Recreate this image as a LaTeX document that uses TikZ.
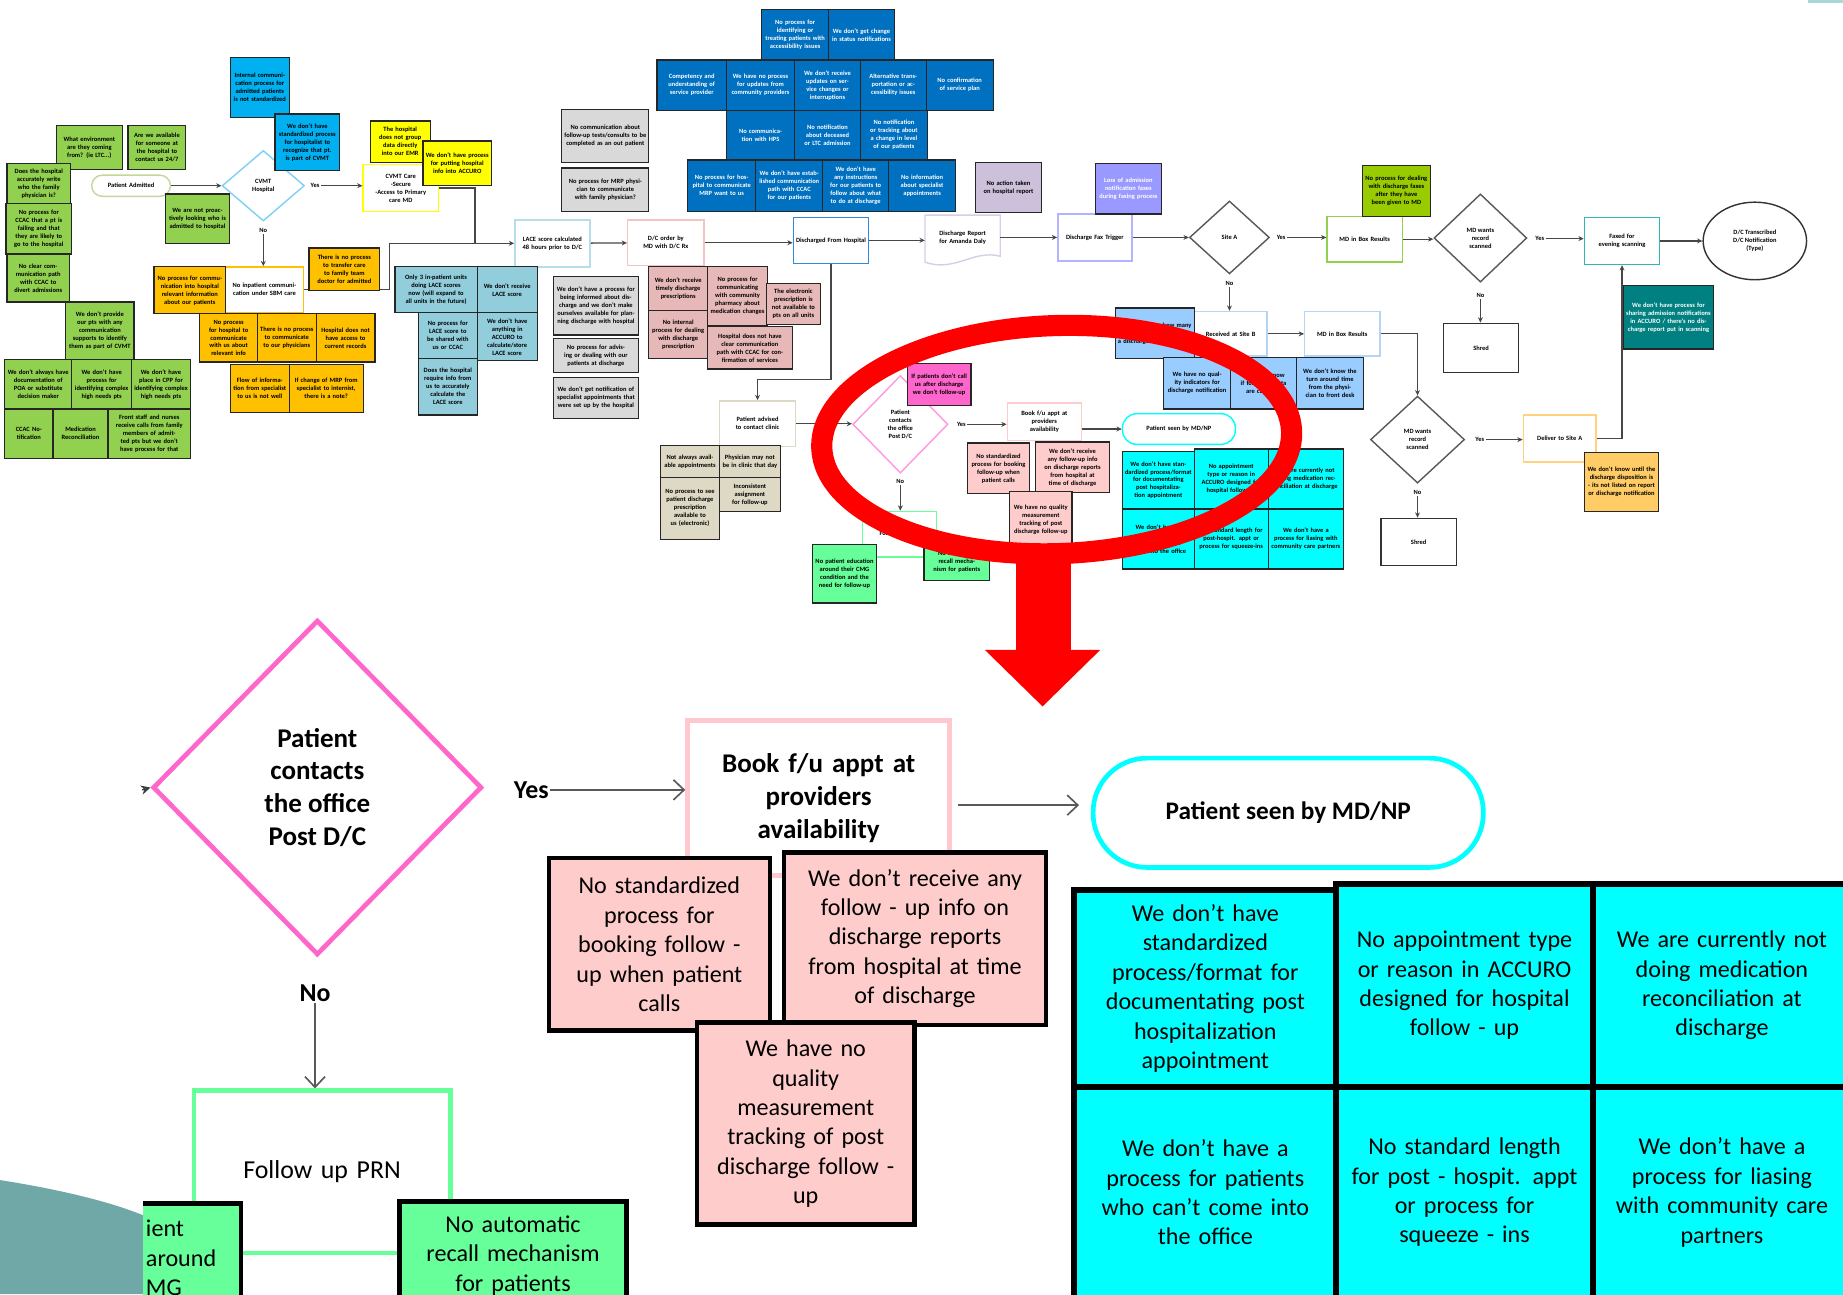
\documentclass[tikz,border=0pt]{standalone}
\usepackage{fontspec}
\setmainfont{Carlito}
\usetikzlibrary{arrows.meta,shapes.geometric,calc}

\definecolor{cgreen}{HTML}{92D050}
\definecolor{cblue}{HTML}{00B0F0}
\definecolor{cyellow}{HTML}{FFFF00}
\definecolor{corange}{HTML}{FFC000}
\definecolor{clace}{HTML}{92CDDC}
\definecolor{cgray}{HTML}{D9D9D9}
\definecolor{crose}{HTML}{E6B8B7}
\definecolor{cdblue}{HTML}{0070C0}
\definecolor{cpg}{HTML}{CCC0DA}
\definecolor{cviolet}{HTML}{9999FF}
\definecolor{clime}{HTML}{99CC00}
\definecolor{cteal}{HTML}{008080}
\definecolor{corlight}{HTML}{FFCC66}
\definecolor{clb}{HTML}{99CCFF}
\definecolor{cbeige}{HTML}{DDD9C4}
\definecolor{cmag}{HTML}{FF66CC}
\definecolor{cpink}{HTML}{FFCCCC}
\definecolor{ccyan}{HTML}{00FFFF}
\definecolor{cbright}{HTML}{66FF99}
\definecolor{cpalegreen}{HTML}{C3D69B}
\definecolor{cpinkd}{HTML}{FF66CC}
\definecolor{csdia}{HTML}{FF99DD}
\definecolor{clacebd}{HTML}{B7DEE8}
\definecolor{cdcbd}{HTML}{F2C4C4}
\definecolor{cdfhbd}{HTML}{3388DD}
\definecolor{cfaxbd}{HTML}{B3B3FF}
\definecolor{ctealbd}{HTML}{31B5B5}
\definecolor{clbbd}{HTML}{B4D5F5}
\definecolor{cdelbd}{HTML}{FFD27F}
\definecolor{cdocbd}{HTML}{D9CCE8}
\definecolor{ccvmtbd}{HTML}{7FD0F5}
\definecolor{dgray}{HTML}{595959}
\definecolor{cbookbd}{HTML}{FFC7CE}
\definecolor{bteal}{HTML}{6FA8A6}
\definecolor{cmark}{HTML}{A8D8D8}

% box given by its corners: name, x1, y1, x2, y2, style, text
\newcommand{\cellbox}[7]{%
  \pgfmathsetmacro{\cbw}{#4-#2}%
  \pgfmathsetmacro{\cbh}{#5-#3}%
  \pgfmathsetmacro{\cbt}{max(#4-#2-4,5)}%
  \pgfmathsetmacro{\cbx}{(#2+#4)/2}%
  \pgfmathsetmacro{\cby}{(#3+#5)/2}%
  \node[#6, minimum width=\cbw pt, minimum height=\cbh pt, text width=\cbt pt] (#1) at (\cbx,\cby) {#7};}

\tikzset{
  tinyt/.style={font=\fontsize{5.5}{6.8}\selectfont\bfseries, align=center, inner sep=0pt},
  prob/.style={tinyt, draw=black!85, line width=1.1pt, fill=#1},
  proc/.style={tinyt, draw=#1, line width=1.2pt, fill=white},
  lbl/.style={tinyt, inner sep=1pt},
  flow/.style={draw=black!72, line width=1.1pt, -{Stealth[length=4.5pt,width=4.2pt]}},
  plain/.style={draw=black!72, line width=1.1pt},
  bigt/.style={font=\fontsize{20.5}{25}\selectfont, align=center, inner sep=0pt},
  bigb/.style={font=\fontsize{23}{28}\selectfont\bfseries, align=center, inner sep=0pt},
  bigprob/.style={bigt, draw=black, line width=4pt, fill=#1},
  bigproc/.style={draw=#1, line width=4pt, fill=white, align=center, inner sep=0pt},
  blbl/.style={font=\fontsize{22}{26}\selectfont\bfseries, inner sep=1pt},
  bflow/.style={draw=black!65, line width=1.4pt, -{Straight Barb[length=9pt,width=17pt]}},
}

\begin{document}
\begin{tikzpicture}[x=1pt,y=-1pt]
\useasboundingbox (0,0) rectangle (1568,1101);
\clip (0,0) rectangle (1568,1101);
\fill[white] (0,0) rectangle (1568,1101);
\fill[cmark] (1538,0) rectangle (1568,2.5);

% ---------------- overview map: process steps ----------------
\cellbox{pa}{78}{149}{145}{167}{proc=cpalegreen, rounded corners=9pt}{Patient Admitted}
\node[diamond, draw=ccvmtbd, line width=1.2pt, minimum width=70pt, minimum height=60pt, tinyt] (cvmt) at (224,158) {CVMT\\Hospital};
\cellbox{cvmtcare}{309}{140}{373}{180}{proc=cyellow}{CVMT Care\\-Secure\\-Access to Primary\\care MD}
\cellbox{noinp}{192}{227}{258}{266}{proc=corange}{No inpatient communication under SBM care}
\cellbox{lace}{438}{187}{502}{227}{proc=clacebd}{LACE score calculated 48 hours prior to D/C}
\cellbox{dco}{534}{187}{599}{226}{proc=cdcbd}{D/C order by MD with D/C Rx}
\cellbox{dfh}{675}{185}{739}{224}{proc=cdfhbd}{Discharged From Hospital}
\draw[draw=cdocbd, line width=1.2pt, fill=white] (787,183) -- (851,183) -- (851,218) .. controls (828,212) and (812,232) .. (787,223) -- cycle;
\node[tinyt, minimum width=64pt, minimum height=36pt, text width=58pt] (drep) at (819,202) {Discharge Report for Amanda Daly};
\cellbox{fax}{900}{182}{963}{222}{proc=cfaxbd}{Discharge Fax Trigger}
\node[diamond, draw=dgray, line width=1.2pt, minimum width=68pt, minimum height=62pt, tinyt] (sitea) at (1046,202) {Site A};
\cellbox{mdbox}{1129}{184}{1193}{223}{proc=cgreen}{MD in Box Results}
\node[diamond, draw=dgray, line width=1.2pt, minimum width=79pt, minimum height=75pt, tinyt] (d2) at (1259.5,202.5) {MD wants\\record\\scanned};
\cellbox{faxed}{1348}{185}{1412}{225}{proc=ctealbd}{Faxed for evening scanning}
\node[ellipse, draw=black!80, line width=1.2pt, minimum width=88pt, minimum height=66pt, tinyt] (circ) at (1493,205) {D/C Transcribed\\D/C Notification\\(Type)};
\cellbox{recb}{1016}{265}{1078}{303}{proc=clbbd}{Received at Site B}
\cellbox{md2}{1110}{265}{1174}{303}{proc=clbbd}{MD in Box Results}
\cellbox{shreda}{1228}{275}{1292}{317}{proc=black!80}{Shred}
\node[diamond, draw=dgray, line width=1.2pt, minimum width=80pt, minimum height=74pt, tinyt] (d3) at (1206,374) {MD wants\\record\\scanned};
\cellbox{deliver}{1296}{353}{1358}{393}{proc=cdelbd}{Deliver to Site A}
\cellbox{shredb}{1175}{441}{1239}{481}{proc=black!80}{Shred}
\cellbox{pac}{612}{341}{677}{380}{proc=cbeige}{Patient advised to contact clinic}
\node[diamond, draw=csdia, line width=1.2pt, minimum width=81pt, minimum height=83pt, tinyt] (sdia) at (766,361) {Patient\\contacts\\the office\\Post D/C};
\cellbox{sbook}{857}{343}{920}{375}{proc=cpink}{Book f/u appt at\\providers\\availability}
\cellbox{spill}{955}{352}{1051}{378}{proc=ccyan, rounded corners=12pt}{Patient seen by MD/NP}
\cellbox{sprn}{734}{435}{797}{474}{proc=cbright}{Follow up PRN}

% ---------------- overview map: connectors ----------------
\draw[flow] (pa) -- (cvmt);
\node[lbl] (yesa) at (268,158) {Yes};
\draw[flow] (yesa.east) -- (yesa.east -| cvmtcare.west);
\node[lbl] (noa) at (224,196) {No};
\draw[flow] (noa.south) -- (noa.south |- noinp.north);
\draw[flow] (noinp.east) -- ++(73,0) |- (lace.west);
\coordinate (joina) at (404,207);
\draw[plain] (cvmtcare.east) -| (joina);
\draw[flow] (lace) -- (dco);
\draw[flow] (dco.east) -- (dco.east -| dfh.west);
\draw[flow] (dfh.east) -- (dfh.east -| drep.west);
\draw[flow] (drep.east) -- (drep.east -| fax.west);
\draw[flow] (fax) -- (sitea);
\node[lbl] (yesb) at (1090,202) {Yes};
\draw[flow] (yesb.east) -- (yesb.east -| mdbox.west);
\draw[flow] (mdbox.east) -- (mdbox.east -| d2.west);
\node[lbl] (yesc) at (1310,203) {Yes};
\draw[flow] (yesc.east) -- (yesc.east -| faxed.west);
\draw[flow] (faxed.east) -- (faxed.east -| circ.west);
\node[lbl] (nob) at (1259.5,251) {No};
\draw[flow] (nob.south) -- (nob.south |- shreda.north);
\node[lbl] (noc) at (1046,241) {No};
\draw[flow] (noc.south) -- (noc.south |- recb.north);
\draw[flow] (recb) -- (md2);
\draw[flow] (md2.east) -| (d3.north);
\node[lbl] (yesd) at (1259,374) {Yes};
\draw[flow] (yesd.east) -- (yesd.east -| deliver.west);
\node[lbl] (nod) at (1206,419) {No};
\draw[flow] (nod.south) -- (nod.south |- shredb.north);
\draw[flow] (deliver.east) -| (faxed.south);
\draw[flow] (dfh.south) -- ++(0,98) -| (pac.north);
\draw[flow] (pac.east) -- (pac.east -| sdia.west);
\node[lbl] (yese) at (818,361) {Yes};
\draw[flow] (yese.east) -- (yese.east -| sbook.west);
\draw[flow] (sbook.east |- spill.west) -- (spill.west);
\node[lbl] (noe) at (766,410) {No};
\draw[flow] (noe.south) -- (noe.south |- sprn.north);

% ---------------- overview map: problem cards ----------------
\cellbox{g1}{48}{107}{104}{144}{prob=cgreen}{What environment are they coming from? (ie LTC...)}
\cellbox{g2}{109}{107}{158}{144}{prob=cgreen}{Are we available for someone at the hospital to contact us 24/7}
\cellbox{g3}{6}{139}{60}{173}{prob=cgreen}{Does the hospital accurately write who the family physician is?}
\cellbox{g4}{5}{173}{61}{216}{prob=cgreen}{No process for CCAC that a pt is failing and that they are likely to go to the hospital}
\cellbox{g5}{6}{216}{59}{257}{prob=cgreen}{No clear communication path with CCAC to divert admissions}
\cellbox{g6}{141}{165}{195}{207}{prob=cgreen}{We are not proactively looking who is admitted to hospital}
\cellbox{g7}{56}{257}{114}{306}{prob=cgreen}{We don't provide our pts with any communication supports to identify them as part of CVMT}
\cellbox{g8}{4}{306}{61}{348}{prob=cgreen}{We don't always have documentation of POA or substitute decision maker}
\cellbox{g9}{61}{306}{112}{348}{prob=cgreen}{We don't have process for identifying complex high needs pts}
\cellbox{g10}{112}{306}{162}{348}{prob=cgreen}{We don't have place in CPP for identifying complex high needs pts}
\cellbox{g11}{4}{348}{45}{390}{prob=cgreen}{CCAC Notification}
\cellbox{g12}{45}{348}{92}{390}{prob=cgreen}{Medication Reconciliation}
\cellbox{g13}{92}{348}{162}{390}{prob=cgreen}{Front staff and nurses receive calls from family members of admitted pts but we don't have process for that}

\cellbox{b1}{196}{49}{246}{100}{prob=cblue}{Internal communication process for admitted patients is not standardized}
\cellbox{b2}{234}{97}{289}{145}{prob=cblue}{We don't have standardized process for hospitalist to recognize that pt. is part of CVMT}
\cellbox{ya}{315}{103}{366}{138}{prob=cyellow}{The hospital does not group data directly into our EMR}
\cellbox{yb}{360}{120}{418}{158}{prob=cyellow}{We don't have process for putting hospital info into ACCURO}

\cellbox{o1}{131}{227}{192}{267}{prob=corange}{No process for communication into hospital relevant information about our patients}
\cellbox{o2}{263}{211}{323}{247}{prob=corange}{There is no process to transfer care to family team doctor for admitted}
\cellbox{o3}{170}{267}{219}{308}{prob=corange}{No process for hospital to communicate with us about relevant info}
\cellbox{o4}{219}{267}{269}{308}{prob=corange}{There is no process to communicate to our physicians}
\cellbox{o5}{269}{267}{319}{308}{prob=corange}{Hospital does not have access to current records}
\cellbox{o6}{196}{310}{246}{351}{prob=corange}{Flow of information from specialist to us is not well}
\cellbox{o7}{246}{310}{309}{351}{prob=corange}{If change of MRP from specialist to internist, there is a note?}

\cellbox{l1}{336}{227}{406}{266}{prob=clace}{Only 3 in-patient units doing LACE scores now (will expand to all units in the future)}
\cellbox{l2}{406}{227}{457}{266}{prob=clace}{We don't receive LACE score}
\cellbox{l3}{356}{266}{406}{305}{prob=clace}{No process for LACE score to be shared with us or CCAC}
\cellbox{l4}{406}{266}{457}{307}{prob=clace}{We don't have anything in ACCURO to calculate/store LACE score}
\cellbox{l5}{356}{305}{406}{353}{prob=clace}{Does the hospital require info from us to accurately calculate the LACE score}

\cellbox{gr0}{478}{93}{552}{138}{prob=cgray}{No communication about follow-up tests/consults to be completed as an out patient}
\cellbox{gr1}{478}{143}{552}{180}{prob=cgray}{No process for MRP physician to communicate with family physician?}
\cellbox{gr2}{471}{235}{543}{285}{prob=cgray}{We don't have a process for being informed about discharge and we don't make ourselves available for planning discharge with hospital}
\cellbox{gr3}{471}{288}{543}{317}{prob=cgray}{No process for advising or dealing with our patients at discharge}
\cellbox{gr4}{471}{321}{543}{356}{prob=cgray}{We don't get notification of specialist appointments that were set up by the hospital}

\cellbox{p1}{552}{227}{602}{264}{prob=crose}{We don't receive timely discharge prescriptions}
\cellbox{p2}{552}{264}{602}{305}{prob=crose}{No internal process for dealing with discharge prescription}
\cellbox{p3}{602}{227}{653}{277}{prob=crose}{No process for communicating with community pharmacy about medication changes}
\cellbox{p4}{652}{241}{698}{276}{prob=crose}{The electronic prescription is not available to pts on all units}
\cellbox{p5}{602}{278}{674}{314}{prob=crose}{Hospital does not have clear communication path with CCAC for confirmation of services}

\cellbox{ra}{648}{8}{705}{51}{prob=cdblue, text=white}{No process for identifying or treating patients with accessibility issues}
\cellbox{rb}{705}{8}{761}{51}{prob=cdblue, text=white}{We don't get change in status notifications}
\cellbox{rc}{559}{51}{618}{94}{prob=cdblue, text=white}{Competency and understanding of service provider}
\cellbox{rd}{618}{51}{676}{94}{prob=cdblue, text=white}{We have no process for updates from community providers}
\cellbox{re}{676}{51}{732}{94}{prob=cdblue, text=white}{We don't receive updates on service changes or interruptions}
\cellbox{rf}{732}{51}{788}{94}{prob=cdblue, text=white}{Alternative transportation or accessibility issues}
\cellbox{rg}{788}{51}{845}{94}{prob=cdblue, text=white}{No confirmation of service plan}
\cellbox{rh}{618}{94}{676}{136}{prob=cdblue, text=white}{No communication with HPS}
\cellbox{ri}{676}{94}{732}{136}{prob=cdblue, text=white}{No notification about deceased or LTC admission}
\cellbox{rj}{732}{94}{789}{136}{prob=cdblue, text=white}{No notification or tracking about a change in level of our patients}
\cellbox{rk}{585}{136}{643}{180}{prob=cdblue, text=white}{No process for hospital to communicate MRP want to us}
\cellbox{rl}{643}{136}{700}{180}{prob=cdblue, text=white}{We don't have established communication path with CCAC for our patients}
\cellbox{rm}{700}{136}{756}{180}{prob=cdblue, text=white}{We don't have any instructions for our patients to follow about what to do at discharge}
\cellbox{rn}{756}{136}{813}{180}{prob=cdblue, text=white}{No information about specialist appointments}

\cellbox{pg}{830}{138}{886}{181}{prob=cpg}{No action taken on hospital report}
\cellbox{vi}{932}{139}{988}{182}{prob=cviolet, text=white}{Loss of admission notification faxes during faxing process}
\cellbox{lime}{1159}{141}{1217}{184}{prob=clime}{No process for dealing with discharge faxes after they have been given to MD}
\cellbox{tealc}{1381}{243}{1458}{297}{prob=cteal, text=white}{We don't have process for sharing admission notifications in ACCURO / there's no discharge report put in scanning}
\cellbox{orb}{1348}{385}{1411}{435}{prob=corlight}{We don't know until the discharge disposition is - its not listed on report or discharge notification}
\cellbox{lba}{949}{262}{1016}{305}{prob=clb}{We don't know how many patients we don't receive a discharge notification for}
\cellbox{lbb}{990}{304}{1047}{348}{prob=clb}{We have no quality indicators for discharge notification}
\cellbox{lbc}{1047}{304}{1103}{348}{prob=clb}{We don't know if follow-up data are captured}
\cellbox{lbd}{1103}{304}{1160}{348}{prob=clb}{We don't know the turn around time from the physician to front desk}

\cellbox{bea}{562}{379}{612}{406}{prob=cbeige}{Not always available appointments}
\cellbox{beb}{612}{379}{664}{406}{prob=cbeige}{Physician may not be in clinic that day}
\cellbox{bec}{562}{406}{612}{459}{prob=cbeige}{No process to see patient discharge prescription available to us (electronic)}
\cellbox{bed}{612}{406}{664}{435}{prob=cbeige}{Inconsistent assignment for follow-up}

\cellbox{mag}{772}{309}{826}{345}{prob=cmag}{If patients don't call us after discharge we don't follow-up}
\cellbox{spa}{823}{377}{876}{420}{prob=cpink}{No standardized process for booking follow-up when patient calls}
\cellbox{spb}{881}{376}{944}{419}{prob=cpink}{We don't receive any follow-up info on discharge reports from hospital at time of discharge}
\cellbox{spc}{859}{418}{912}{466}{prob=cpink}{We have no quality measurement tracking of post discharge follow-up}
\cellbox{sca}{955}{384}{1016}{433}{prob=ccyan}{We don't have standardized process/format for documentating post hospitalization appointment}
\cellbox{scb}{1016}{382}{1079}{433}{prob=ccyan}{No appointment type or reason in ACCURO designed for hospital follow-up}
\cellbox{scc}{1079}{382}{1143}{433}{prob=ccyan}{We are currently not doing medication reconciliation at discharge}
\cellbox{scd}{955}{433}{1016}{484}{prob=ccyan}{We don't have a process for patients who can't come into the office}
\cellbox{sce}{1016}{433}{1079}{484}{prob=ccyan}{No standard length for post-hospit. appt or process for squeeze-ins}
\cellbox{scf}{1079}{433}{1143}{484}{prob=ccyan}{We don't have a process for liasing with community care partners}
\cellbox{sga}{691}{463}{746}{513}{prob=cbright}{No patient education around their CMG condition and the need for follow-up}
\cellbox{sgb}{786}{462}{842}{494}{prob=cbright}{No automatic recall mechanism for patients}

% ---------------- highlight ring and pointer ----------------
\draw[red, line width=18pt, rotate around={2:(899,374)}] (899,374) ellipse [x radius=200pt, y radius=97pt];
\fill[red] (864,470) rectangle (911,554);
\fill[red] (838,553) -- (936,553) -- (887,601) -- cycle;

% ---------------- enlarged view ----------------
\fill[bteal] (0,1004) .. controls (45,1011) and (90,1021) .. (122,1034) -- (122,1101) -- (0,1101) -- cycle;

\node[diamond, draw=cpinkd, line width=4pt, minimum width=280pt, minimum height=285pt, bigb] (bdia) at (270,670) {Patient\\contacts\\the office\\Post D/C};
\coordinate (bin) at (121,672);
\draw[draw=black!75, line width=1.2pt, -{Stealth[length=8pt,width=8pt]}] (bin) -- (bdia.west);

\cellbox{bbook}{585}{613}{808}{745}{bigproc=cbookbd, bigb}{Book f/u appt at\\providers\\availability}
\node[draw=ccyan, line width=4pt, rounded corners=46pt, minimum width=332pt, minimum height=93pt, bigb, font=\fontsize{21.5}{26}\selectfont\bfseries] (bpill) at (1096,691.5) {Patient seen by MD/NP};

\node[blbl] (byes) at (452,672) {Yes};
\draw[bflow] (byes.east) -- (byes.east -| bbook.west);
\draw[bflow] ($(bbook.east)+(5,6)$) -- ($(bpill.west)+(-10,-6.5)$);
\node[blbl] (bno) at (268,845) {No};
\draw[bflow] (bno.south) -- (bno.south |- 0,926);

\cellbox{bpa}{467}{730}{655}{877}{bigprob=cpink}{No standardized\\process for\\booking follow -\\up when patient\\calls}
\cellbox{bpb}{667}{725}{890}{872}{bigprob=cpink}{We don't receive any\\follow - up info on\\discharge reports\\from hospital at time\\of discharge}
\cellbox{bpc}{593}{870}{778}{1042}{bigprob=cpink}{We have no\\quality\\measurement\\tracking of post\\discharge follow -\\up}

\cellbox{bca}{914}{757}{1137}{925}{bigprob=ccyan, line width=5pt}{We don't have\\standardized\\process/format for\\documentating post\\hospitalization\\appointment}
\cellbox{bcb}{1137}{752}{1355}{925}{bigprob=ccyan, line width=5pt}{No appointment type\\or reason in ACCURO\\designed for hospital\\follow - up}
\cellbox{bcc}{1355}{752}{1575}{925}{bigprob=ccyan, line width=5pt}{We are currently not\\doing medication\\reconciliation at\\discharge}
\cellbox{bcd}{914}{925}{1137}{1104}{bigprob=ccyan, line width=5pt}{We don't have a\\process for patients\\who can't come into\\the office}
\cellbox{bce}{1137}{925}{1355}{1104}{bigprob=ccyan, line width=5pt}{No standard length\\for post - hospit. appt\\or process for\\squeeze - ins}
\cellbox{bcf}{1355}{925}{1575}{1104}{bigprob=ccyan, line width=5pt}{We don't have a\\process for liasing\\with community care\\partners}

\cellbox{bprn}{165}{928}{383}{1066}{bigproc=cbright, bigt, font=\fontsize{22}{26}\selectfont}{Follow up PRN}
\cellbox{bgb}{340}{1022}{533}{1114}{bigprob=cbright}{No automatic\\recall mechanism\\for patients}
\fill[cbright] (122,1024) rectangle (205,1110);
\draw[black, line width=4pt] (122,1024) -- (205,1024) -- (205,1110);
\node[bigt, align=left, anchor=north west] (bga) at (124,1038) {ient\\around\\MG};
\end{tikzpicture}
\end{document}
